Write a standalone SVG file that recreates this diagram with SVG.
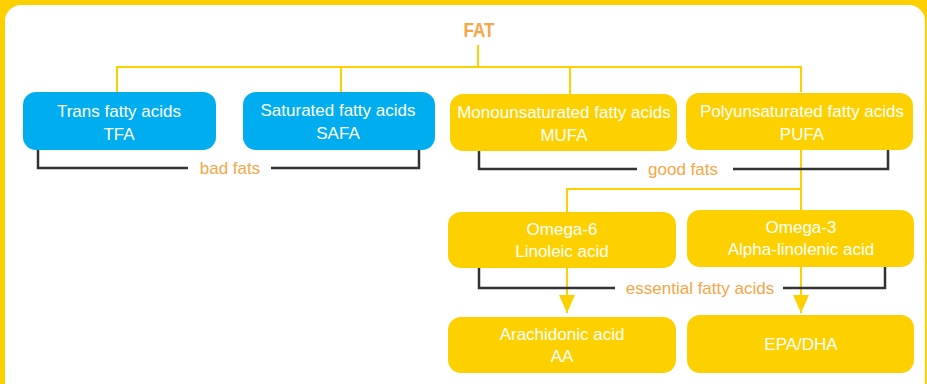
<svg xmlns="http://www.w3.org/2000/svg" width="927" height="384" viewBox="0 0 927 384">
<defs>
<style>
.blue{fill:#00AEEF}
.yel{fill:#FDD100}
.nt{font-family:"Liberation Sans","Open Sans",sans-serif;font-size:17px;fill:#ffffff;text-anchor:middle}
.lbl{font-family:"Liberation Sans","Open Sans",sans-serif;font-size:17px;fill:#F6A646;text-anchor:middle}
.yl{stroke:#FDD100;stroke-width:2;fill:none}
.br{stroke:#333333;stroke-width:2.5;fill:none}
</style>
<marker id="arr" markerWidth="18" markerHeight="16" refX="18" refY="8" orient="auto" markerUnits="userSpaceOnUse" viewBox="0 0 18 16">
<path d="M0,0 L18,8 L0,16 Z" fill="#FDD100"/>
</marker>
</defs>
<rect x="0" y="0" width="927" height="384" fill="#FDD100"/>
<rect x="5" y="5" width="920" height="392" rx="16" fill="#ffffff"/>
<g id="connectors">
<path class="yl" d="M478,45 V67 M117,92 V67 H801 V92 M341,67 V92 M570,67 V94"/>
<path class="yl" d="M801,149 V210 M801,189 H567 V212"/>
<path class="yl" d="M567,268 V313" marker-end="url(#arr)"/>
<path class="yl" d="M801,267 V313" marker-end="url(#arr)"/>
<path class="br" d="M38,150 V168 H188 M271,168 H419 V150"/>
<path class="br" d="M479,151 V169 H637 M733,169 H888 V149"/>
<path class="br" d="M479,268 V288 H615 M783,288 H885 V267"/>
<text class="lbl" x="230" y="174">bad fats</text>
<text class="lbl" x="683" y="175">good fats</text>
<text class="lbl" x="700" y="294">essential fatty acids</text>
</g>
<g id="fat">
<text x="479" y="37" font-family="'Liberation Sans Narrow','Liberation Sans',sans-serif" font-weight="bold" font-size="21" fill="#F6A646" text-anchor="middle" textLength="31" lengthAdjust="spacingAndGlyphs">FAT</text>
</g>
<g id="tfa">
<rect class="blue" x="23" y="92" width="193" height="58" rx="13"/>
<text class="nt" x="119" y="117">Trans fatty acids</text>
<text class="nt" x="119" y="140">TFA</text>
</g>
<g id="safa">
<rect class="blue" x="243" y="92" width="192" height="58" rx="13"/>
<text class="nt" x="338" y="116">Saturated fatty acids</text>
<text class="nt" x="338" y="139">SAFA</text>
</g>
<g id="mufa">
<rect class="yel" x="450" y="94" width="227" height="57" rx="13"/>
<text class="nt" x="564" y="118">Monounsaturated fatty acids</text>
<text class="nt" x="564" y="141">MUFA</text>
</g>
<g id="pufa">
<rect class="yel" x="686" y="93" width="227" height="57" rx="13"/>
<text class="nt" x="802" y="117">Polyunsaturated fatty acids</text>
<text class="nt" x="802" y="140">PUFA</text>
</g>
<g id="omega6">
<rect class="yel" x="448" y="212" width="228" height="56" rx="13"/>
<text class="nt" x="562" y="235">Omega-6</text>
<text class="nt" x="562" y="257">Linoleic acid</text>
</g>
<g id="omega3">
<rect class="yel" x="687" y="210" width="227" height="57" rx="13"/>
<text class="nt" x="801" y="233">Omega-3</text>
<text class="nt" x="801" y="255">Alpha-linolenic acid</text>
</g>
<g id="aa">
<rect class="yel" x="448" y="317" width="228" height="56" rx="13"/>
<text class="nt" x="562" y="340">Arachidonic acid</text>
<text class="nt" x="562" y="362">AA</text>
</g>
<g id="epadha">
<rect class="yel" x="687" y="315" width="227" height="58" rx="13"/>
<text class="nt" x="801" y="350">EPA/DHA</text>
</g>
</svg>
